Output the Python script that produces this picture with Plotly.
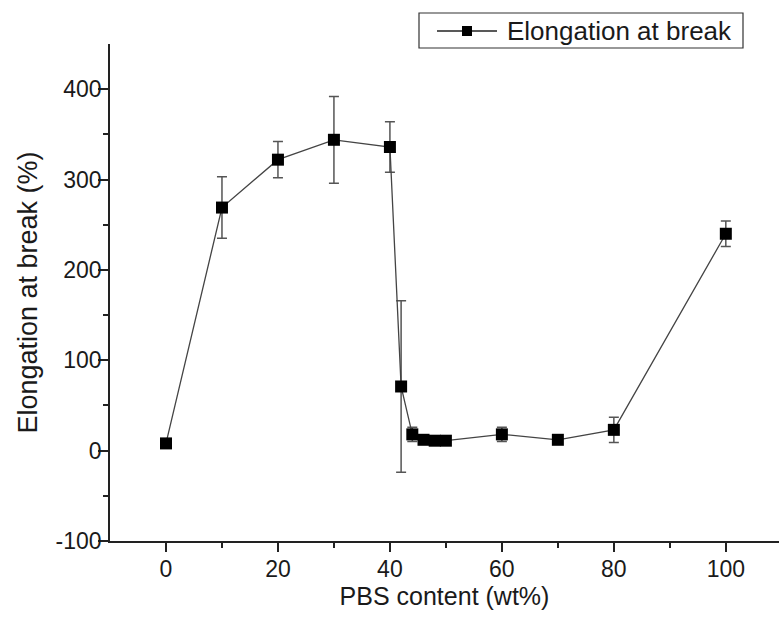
import plotly.graph_objects as go

pbs_content = [0, 10, 20, 30, 40, 42, 44, 46, 48, 50, 60, 70, 80, 100]
elongation = [8, 269, 322, 344, 336, 71, 18, 12, 11, 11, 18, 12, 23, 240]
elong_err = [3, 34, 20, 48, 28, 95, 8, 4, 4, 4, 8, 4, 14, 14]
series_name = "Elongation at break"

x_ticks = [0, 20, 40, 60, 80, 100]
y_ticks = [-100, 0, 100, 200, 300, 400]

FONT = "Liberation Sans, Arial, sans-serif"

fig = go.Figure()
fig.add_trace(go.Scatter(
    x=pbs_content, y=elongation,
    mode="lines+markers",
    name=series_name,
    line=dict(color="#444444", width=1.3),
    marker=dict(symbol="square", size=12, color="black"),
    error_y=dict(type="data", array=elong_err, visible=True,
                 color="#555555", thickness=1.5, width=5),
    showlegend=False,
))

# Custom legend box (Origin style: line-marker-line)
L, T, W, H = 110, 44, 669, 497
def px(xp):
    return (xp - L) / W
def py(yp):
    return (T + H - yp) / H

ly = py(31)
fig.add_shape(type="rect", xref="paper", yref="paper",
              x0=px(419), x1=px(743), y0=py(48), y1=py(13),
              line=dict(color="#333333", width=1.2), fillcolor="white")
fig.add_shape(type="line", xref="paper", yref="paper",
              x0=px(437), x1=px(497), y0=ly, y1=ly,
              line=dict(color="#222222", width=1.3))
fig.add_shape(type="rect", xref="paper", yref="paper",
              x0=px(462), x1=px(472), y0=py(36), y1=py(26),
              line=dict(color="black", width=0), fillcolor="black")
fig.add_annotation(xref="paper", yref="paper", x=px(505), y=ly,
                   xanchor="left", yanchor="middle", showarrow=False,
                   text=series_name, font=dict(size=26, family=FONT, color="#1a1a1a"))

fig.update_layout(
    width=779, height=617,
    margin=dict(l=L, r=0, t=T, b=617 - T - H),
    paper_bgcolor="white", plot_bgcolor="white",
    font=dict(family=FONT, color="#1a1a1a", size=23),
    showlegend=False,
)
fig.update_xaxes(
    range=[-10, 109.5], tickvals=x_ticks, ticktext=[str(v) for v in x_ticks],
    showline=True, linecolor="#222222", linewidth=1.5, mirror=False,
    ticks="outside", ticklen=9, tickwidth=1.5, tickcolor="#222222",
    minor=dict(tickvals=[10, 30, 50, 70, 90], ticks="outside", ticklen=5,
               tickwidth=1.5, tickcolor="#222222"),
    showgrid=False, zeroline=False,
    tickfont=dict(size=23), ticklabelstandoff=-2,
    title=dict(text="PBS content (wt%)", font=dict(size=25), standoff=6),
)
fig.update_yaxes(
    range=[-100, 450], tickvals=y_ticks, ticktext=[str(v) for v in y_ticks],
    showline=True, linecolor="#222222", linewidth=1.5, mirror=False,
    ticks="outside", ticklen=10, tickwidth=1.5, tickcolor="#222222",
    minor=dict(tickvals=[-50, 50, 150, 250, 350], ticks="outside", ticklen=5,
               tickwidth=1.5, tickcolor="#222222"),
    showgrid=False, zeroline=False,
    tickfont=dict(size=23), ticklabelstandoff=-8,
    title=dict(text="Elongation at break (%)", font=dict(size=27), standoff=10),
)

fig.write_html("out.html")
